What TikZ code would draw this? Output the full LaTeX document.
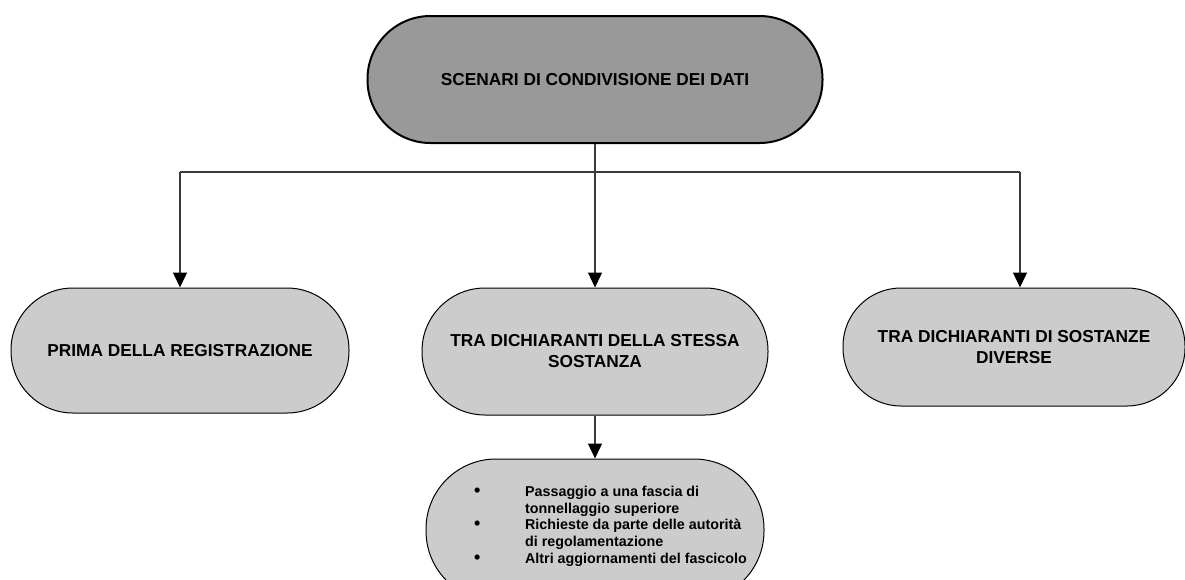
\documentclass[tikz,border=0pt]{standalone}
\usepackage{fontspec}
\setmainfont{Liberation Sans}
\usetikzlibrary{arrows.meta}
\definecolor{topfill}{HTML}{999999}
\definecolor{boxfill}{HTML}{CCCCCC}
\definecolor{linegray}{HTML}{3A3A3A}
\tikzset{
  pill/.style={draw=black, line width=1pt, fill=boxfill, inner sep=0pt, align=center,
    font=\fontsize{17.3}{21}\selectfont\bfseries},
  toppill/.style={pill, fill=topfill, line width=2pt},
  conn/.style={draw=linegray, line width=1.3pt},
  arr/.style={conn, -{Triangle[width=14pt,length=15pt,color=black]}},
}
\begin{document}
\begin{tikzpicture}[x=1pt,y=-1pt]
\useasboundingbox (0,0) rectangle (1185,579);
\clip (0,0) rectangle (1185,579);
\fill[white] (0,0) rectangle (1185,579);
\node[toppill, minimum width=455pt, minimum height=127pt, rounded corners=63pt] (top) at (595,79.5) {SCENARI DI CONDIVISIONE DEI DATI};
\node[pill, minimum width=338pt, minimum height=125pt, rounded corners=62pt] (left) at (180,350.5) {PRIMA DELLA REGISTRAZIONE};
\node[pill, minimum width=346pt, minimum height=127pt, rounded corners=63pt] (mid) at (595,351.5) {TRA DICHIARANTI DELLA STESSA\\SOSTANZA};
\node[pill, minimum width=342pt, minimum height=118pt, rounded corners=58pt] (right) at (1014,347) {TRA DICHIARANTI DI SOSTANZE\\DIVERSE};
\node[pill, minimum width=338pt, minimum height=142pt, rounded corners=70pt, font=\fontsize{14.3}{16.7}\selectfont\bfseries, align=left] (sub) at (595,530)
  {\begin{tabular}{@{\hspace{31pt}}p{51pt}@{}l@{}}
   {\fontsize{18}{16.7}\selectfont\textbullet} & Passaggio a una fascia di\\
    & tonnellaggio superiore\\
   {\fontsize{18}{16.7}\selectfont\textbullet} & Richieste da parte delle autorità\\
    & di regolamentazione\\
   {\fontsize{18}{16.7}\selectfont\textbullet} & Altri aggiornamenti del fascicolo\rule[-12pt]{0pt}{12pt}
  \end{tabular}};
\coordinate (hub) at (595,172);
\coordinate (hl) at (180,172);
\coordinate (hr) at (1020,172);
\draw[conn] (top.south) -- (hub);
\draw[conn] (hl) -- (hr);
\draw[arr] (hl) -- (hl |- left.north);
\draw[arr] (hub) -- (hub |- mid.north);
\draw[arr] (hr) -- (hr |- right.north);
\draw[arr] (mid.south) -- (sub.north);
\end{tikzpicture}
\end{document}
